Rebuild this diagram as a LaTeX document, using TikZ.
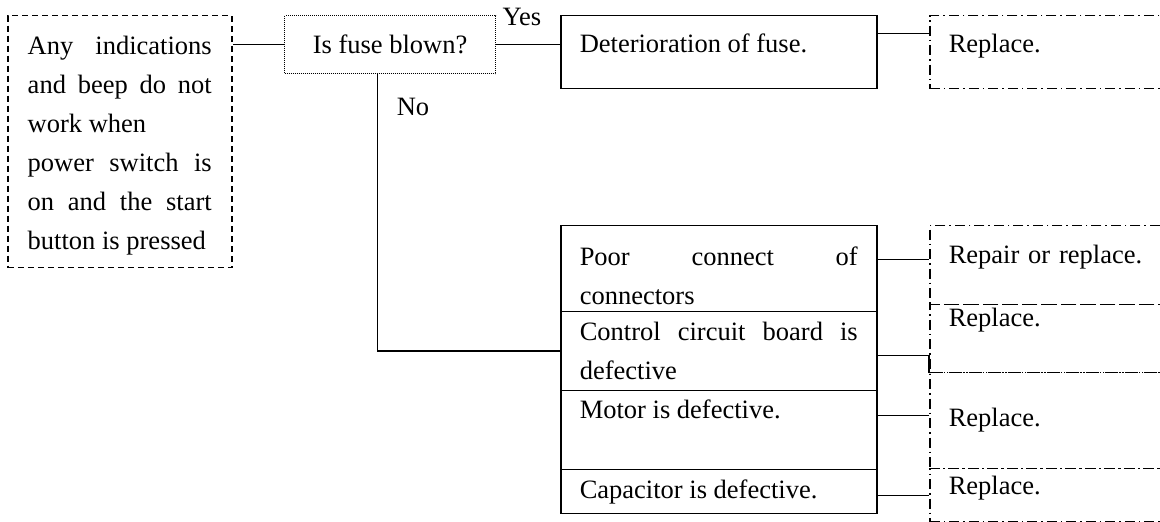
\documentclass[tikz,border=0pt]{standalone}
\usepackage{fontspec}
\setmainfont{Liberation Serif}
\tolerance=10000
\hbadness=10000

\begin{document}
\begin{tikzpicture}[x=0.5pt, y=-0.5pt, line width=0.75pt,
    font=\fontsize{13.25pt}{19.5pt}\selectfont,
    every node/.style={inner ysep=0pt},
    dashbox/.style={shape=rectangle, draw, dash pattern=on 3pt off 2pt, anchor=north west, align=justify},
    dotbox/.style={shape=rectangle, draw, line width=0.55pt, dash pattern=on 0.5pt off 0.5pt, anchor=north west},
    causebox/.style={shape=rectangle, draw, anchor=north west, inner xsep=9.5pt, text width=139pt, align=justify},
    fixbox/.style={shape=rectangle, draw, dash pattern=on 5pt off 2pt on 0.75pt off 2pt, anchor=north west, inner xsep=9.5pt, text width=106.5pt, align=left, text height=9pt, text depth=3pt}]
    \clip (0,0) rectangle (1160,522);
    \node[dashbox, minimum height=126pt, inner xsep=10pt, text width=92pt, text depth=96.5pt] at (7,15) (symptom) {Any indications\linebreak and beep do not\linebreak work when\newline power switch is\linebreak on and the start\linebreak button is pressed};
    \node[dotbox, minimum width=105.5pt, minimum height=29pt] at (284,15) (fuse) {Is fuse blown?};
    \node[causebox, minimum height=36.5pt, text height=9pt, text depth=8.5pt] at (560,15) (deter) {Deterioration of fuse.};
    \node[fixbox, minimum height=36.5pt, text depth=8.5pt] at (929,15) (fix0) {Replace.};
    \node at (522,17) (yes) {Yes};
    \node at (413,107) (no) {No};
    \node[causebox, minimum height=43pt, text depth=12.5pt] at (560,225) (poor) {Poor connect of\linebreak connectors};
    \node[causebox, minimum height=39.5pt] at (560,311) (board) {Control circuit board is\linebreak defective};
    \node[causebox, minimum height=39.5pt, text height=9pt, text depth=20.5pt] at (560,390) (motor) {Motor is defective.};
    \node[causebox, minimum height=22pt] at (560,469) (capacitor) {Capacitor is defective.};
    \node[fixbox, minimum height=39.5pt, text depth=10.5pt] at (929,225) (fixpoor) {Repair or replace.};
    \node[fixbox, minimum height=34pt, text depth=21pt] at (929,304) (fixboard) {Replace.};
    \node[fixbox, minimum height=48pt] at (929,372) (fixmotor) {Replace.};
    \node[fixbox, minimum height=26.5pt, text depth=9.5pt] at (929,468) (fixcap) {Replace.};
    \draw (fuse.west) -- (fuse.west -| symptom.east);
    \draw (fuse.east) -- (fuse.east -| deter.west);
    \draw ([yshift=9.25pt]deter.east) -- ([yshift=9.25pt]fix0.west);
    \draw ([xshift=-6.25pt]fuse.south) |- (board.west);
    \draw ([yshift=4.5pt]poor.east) -- ([yshift=4.5pt]poor.east -| fixpoor.west);
    \draw ([yshift=-2.25pt]board.east) -| (fixboard.south west);
    \draw ([yshift=7.25pt]motor.east) -- ([yshift=7.25pt]motor.east -| fixmotor.west);
    \draw ([yshift=-2pt]capacitor.east) -- ([yshift=-2pt]capacitor.east -| fixcap.west);
\end{tikzpicture}
\end{document}
